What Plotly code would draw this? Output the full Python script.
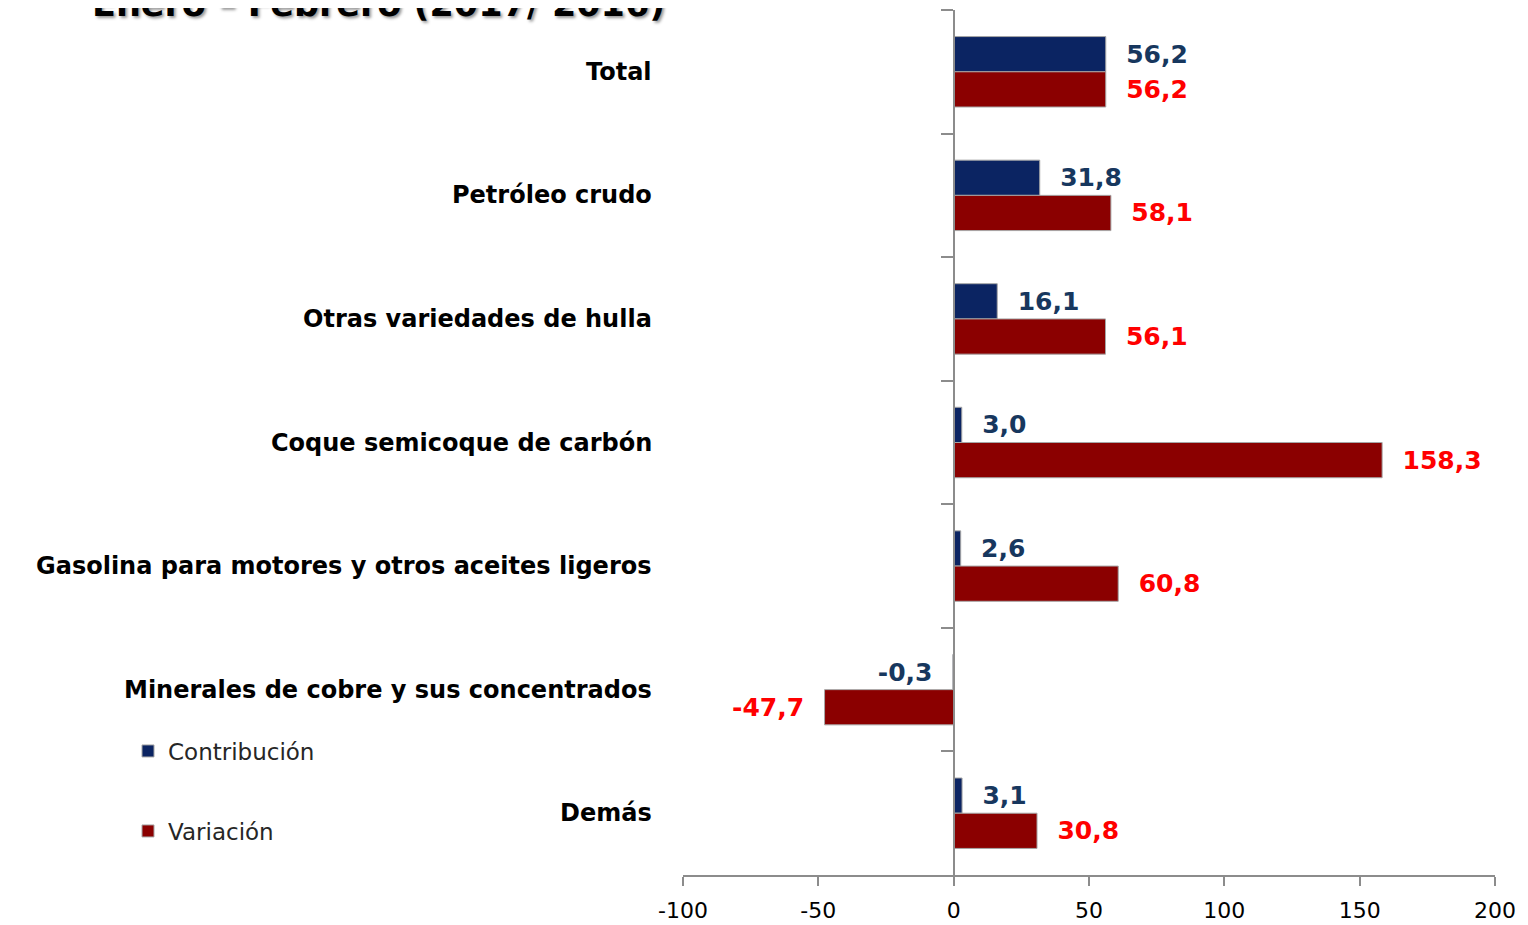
import plotly.graph_objects as go

# ---- data ----
categories = [
    "Total",
    "Petróleo crudo",
    "Otras variedades de hulla",
    "Coque semicoque de carbón",
    "Gasolina para motores y otros aceites ligeros",
    "Minerales de cobre y sus concentrados",
    "Demás",
]
contribucion = [56.2, 31.8, 16.1, 3.0, 2.6, -0.3, 3.1]
variacion = [56.2, 58.1, 56.1, 158.3, 60.8, -47.7, 30.8]
x_ticks = [-100, -50, 0, 50, 100, 150, 200]
x_tick_labels = ["-100", "-50", "0", "50", "100", "150", "200"]
series_names = ["Contribución", "Variación"]
title_text = "Enero – Febrero (2017/ 2016)"

# ---- styling ----
OFF = 8  # page body margin
W, H = 1528 - OFF, 925 - OFF
PL, PR, PT, PB = 683 - OFF, 1495 - OFF, 10 - OFF, 875 - OFF  # plot box in figure px
ML, MR, MT, MB = PL, W - PR, PT, H - PB
PW, PH = PR - PL, PB - PT
BLUE = "#0B2462"
RED = "#8B0000"
BLUE_TXT = "#17375E"
RED_TXT = "#FF0000"
FONT = "DejaVu Sans"
x_min, x_max = x_ticks[0], x_ticks[-1]
NB = "\u00a0\u00a0"


def fmt(v):
    s = f"{v:.1f}".replace(".", ",")
    return NB + s if v >= 0 else s + NB


def px_x(xw):  # window px -> paper x
    return (xw - OFF - PL) / PW


def px_y(yw):  # window px -> paper y
    return (PB - (yw - OFF)) / PH


fig = go.Figure()
for name, vals, col, tcol, leg in [
    (series_names[0], contribucion, BLUE, BLUE_TXT, "legend"),
    (series_names[1], variacion, RED, RED_TXT, "legend2"),
]:
    fig.add_trace(go.Bar(
        name=name, y=categories, x=vals, orientation="h",
        marker=dict(color=col, line=dict(color="#A6A6A6", width=1)),
        text=[fmt(v) for v in vals], textposition="outside",
        textangle=0, constraintext="none", cliponaxis=False,
        textfont=dict(family=FONT, size=25, color=tcol, weight="bold"),
        legend=leg,
    ))

# category labels on the left
for c in categories:
    fig.add_annotation(
        x=px_x(654), xref="paper", xanchor="right",
        y=c, yref="y", yanchor="middle", showarrow=False,
        text=f"<b>{c}</b>",
        font=dict(family=FONT, size=24, color="#000000"),
    )

# title (partly above the page, as in the reference)
fig.add_annotation(
    x=px_x(378), xref="paper", xanchor="center",
    y=px_y(4), yref="paper", yanchor="middle", showarrow=False,
    text=f"<b>{title_text}</b>",
    font=dict(family=FONT, size=35, color="#000000",
              shadow="2px 2px 3px #999999"),
)

fig.update_layout(
    width=W, height=H,
    margin=dict(l=ML, r=MR, t=MT, b=MB),
    paper_bgcolor="white", plot_bgcolor="white",
    barmode="group", bargap=0.43, bargroupgap=0,
    xaxis=dict(
        range=[x_min, x_max], tickvals=x_ticks, ticktext=x_tick_labels,
        automargin=False,
        showgrid=False, zeroline=False,
        showline=True, linecolor="#8C8C8C", linewidth=2,
        ticks="outside", ticklen=9, tickcolor="#8C8C8C", tickwidth=2,
        ticklabelstandoff=6,
        tickfont=dict(family=FONT, size=22, color="#000000"),
    ),
    yaxis=dict(
        categoryorder="array", categoryarray=categories,
        autorange="reversed", automargin=False,
        anchor="free", position=(0 - x_min) / (x_max - x_min),
        showline=True, linecolor="#8C8C8C", linewidth=2,
        ticks="outside", tickson="boundaries", ticklen=12,
        tickcolor="#8C8C8C", tickwidth=2,
        showticklabels=False, showgrid=False, zeroline=False,
    ),
    legend=dict(
        x=px_x(128), xanchor="left",
        y=px_y(751), yanchor="middle",
        font=dict(family=FONT, size=23, color="#262626"),
        bgcolor="rgba(0,0,0,0)",
    ),
    legend2=dict(
        x=px_x(128), xanchor="left",
        y=px_y(831), yanchor="middle",
        font=dict(family=FONT, size=23, color="#262626"),
        bgcolor="rgba(0,0,0,0)",
    ),
    showlegend=True,
)

fig.write_html("out.html")
